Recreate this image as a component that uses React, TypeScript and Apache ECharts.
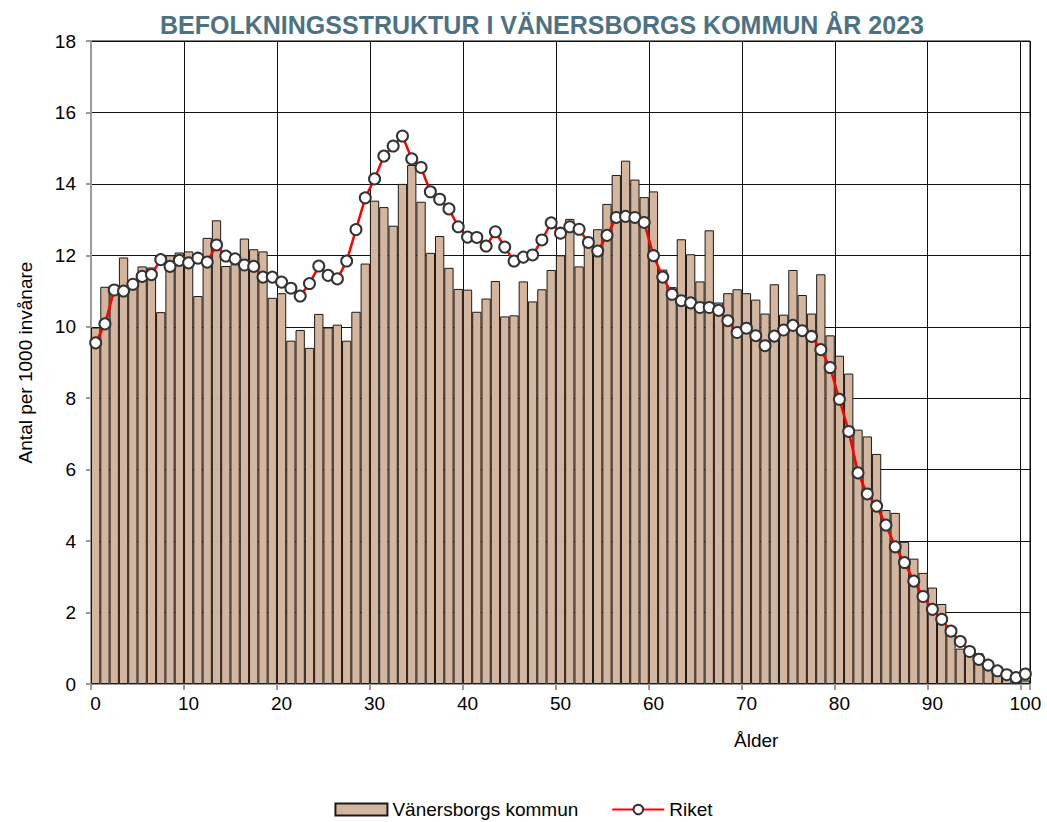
import React, { useEffect, useRef } from "react";
import * as echarts from "echarts";

const ages: string[] = Array.from({ length: 101 }, (_, i) => String(i));

const kommun: number[] = [
  9.98, 11.12, 11.05, 11.94, 11.25, 11.69, 11.66, 10.41, 12.0, 12.08,
  12.11, 10.86, 12.49, 12.98, 11.7, 11.75, 12.47, 12.17, 12.11, 10.81,
  10.94, 9.61, 9.91, 9.41, 10.36, 9.98, 10.06, 9.61, 10.42, 11.77,
  13.53, 13.35, 12.83, 14.0, 14.53, 13.5, 12.07, 12.54, 11.65, 11.06,
  11.04, 10.42, 10.79, 11.28, 10.29, 10.32, 11.27, 10.71, 11.05, 11.59,
  12.0, 13.02, 11.69, 12.3, 12.73, 13.44, 14.25, 14.65, 14.12, 13.63,
  13.79, 11.6, 11.11, 12.45, 12.03, 11.27, 12.7, 10.68, 10.94, 11.05,
  10.94, 10.76, 10.37, 11.19, 10.34, 11.59, 10.89, 10.37, 11.47, 9.76,
  9.19, 8.69, 7.12, 6.93, 6.44, 4.87, 4.79, 3.98, 3.51, 3.11,
  2.7, 2.24, 1.5, 0.99, 0.9, 0.86, 0.55, 0.32, 0.18, 0.11,
  0.1,
];

const riket: number[] = [
  9.55, 10.08, 11.03, 11.0, 11.19, 11.41, 11.46, 11.88, 11.69, 11.86,
  11.79, 11.92, 11.81, 12.29, 11.98, 11.9, 11.73, 11.69, 11.39, 11.39,
  11.25, 11.08, 10.86, 11.21, 11.7, 11.44, 11.34, 11.84, 12.72, 13.61,
  14.14, 14.78, 15.06, 15.34, 14.7, 14.46, 13.78, 13.57, 13.3, 12.8,
  12.51, 12.5, 12.26, 12.66, 12.23, 11.84, 11.95, 12.01, 12.43, 12.91,
  12.62, 12.8, 12.73, 12.36, 12.12, 12.56, 13.06, 13.09, 13.06, 12.92,
  11.99, 11.39, 10.91, 10.73, 10.67, 10.54, 10.54, 10.46, 10.17, 9.84,
  9.96, 9.75, 9.47, 9.74, 9.91, 10.04, 9.89, 9.73, 9.36, 8.86,
  7.97, 7.07, 5.91, 5.32, 4.98, 4.45, 3.84, 3.4, 2.88, 2.45,
  2.09, 1.81, 1.48, 1.19, 0.91, 0.69, 0.53, 0.37, 0.26, 0.18,
  0.28,
];

const titleText = "BEFOLKNINGSSTRUKTUR I VÄNERSBORGS KOMMUN ÅR 2023";
const yAxisName = "Antal per 1000 invånare";
const xAxisName = "Ålder";
const seriesNames = ["Vänersborgs kommun", "Riket"];

const FONT = "'Liberation Sans', Arial, sans-serif";

export default function App() {
  const ref = useRef<HTMLDivElement>(null);

  useEffect(() => {
    if (!ref.current) return;
    const chart = echarts.init(ref.current, null, { renderer: "svg" });
    chart.setOption({
      animation: false,
      backgroundColor: "#ffffff",
      textStyle: { fontFamily: FONT },
      title: {
        text: titleText,
        left: 537,
        textAlign: "center",
        top: 7,
        textStyle: {
          fontFamily: FONT,
          fontSize: 25,
          fontWeight: "bold",
          color: "#4d7282",
        },
      },
      legend: {
        top: 795,
        left: "center",
        itemWidth: 52,
        itemHeight: 12,
        itemGap: 33,
        textStyle: { fontSize: 19, color: "#000", fontFamily: FONT },
        data: [
          { name: seriesNames[0], icon: "rect" },
          { name: seriesNames[1] },
        ],
      },
      grid: {
        left: 91,
        right: 17,
        top: 41,
        bottom: 138,
        show: true,
        borderColor: "#000",
        borderWidth: 1,
        containLabel: false,
      },
      xAxis: {
        type: "category",
        data: ages,
        boundaryGap: true,
        axisLine: { show: true, lineStyle: { color: "#9a9a9a", width: 2 } },
        axisTick: {
          show: true,
          interval: (i: number) => i % 10 === 0,
          length: 6,
          lineStyle: { color: "#9a9a9a", width: 2 },
        },
        axisLabel: {
          interval: (i: number) => i % 10 === 0,
          fontSize: 19,
          color: "#000",
          margin: 10,
          fontFamily: FONT,
        },
        splitLine: {
          show: true,
          interval: (i: number) => i % 10 === 0,
          lineStyle: { color: "#111", width: 1 },
        },
      },
      yAxis: {
        type: "value",
        min: 0,
        max: 18,
        interval: 2,
        name: yAxisName,
        nameLocation: "middle",
        nameGap: 56,
        nameTextStyle: { fontSize: 19, color: "#000", fontFamily: FONT },
        axisLine: { show: true, lineStyle: { color: "#9a9a9a", width: 2 } },
        axisTick: { show: true, length: 5, lineStyle: { color: "#9a9a9a", width: 2 } },
        axisLabel: { fontSize: 19, color: "#000", margin: 15, fontFamily: FONT },
        splitLine: { show: true, lineStyle: { color: "#111", width: 1 } },
      },
      graphic: [
        {
          type: "text",
          left: 734,
          top: 731,
          style: { text: xAxisName, fontSize: 19, fill: "#000", fontFamily: FONT },
        },
      ],
      series: [
        {
          name: seriesNames[0],
          type: "bar",
          data: kommun,
          barCategoryGap: "0%",
          itemStyle: { color: "#d4b59e", borderColor: "#1a1a1a", borderWidth: 1 },
          z: 2,
        },
        {
          name: seriesNames[1],
          type: "line",
          data: riket,
          symbol: "circle",
          symbolSize: 11,
          showAllSymbol: true,
          lineStyle: { color: "#ff0000", width: 2.5 },
          itemStyle: { color: "#ffffff", borderColor: "#333333", borderWidth: 2 },
          z: 3,
        },
      ],
    });
    return () => chart.dispose();
  }, []);

  return (
    <div
      ref={ref}
      style={{ position: "fixed", left: 0, top: 0, width: 1047, height: 822 }}
    />
  );
}
